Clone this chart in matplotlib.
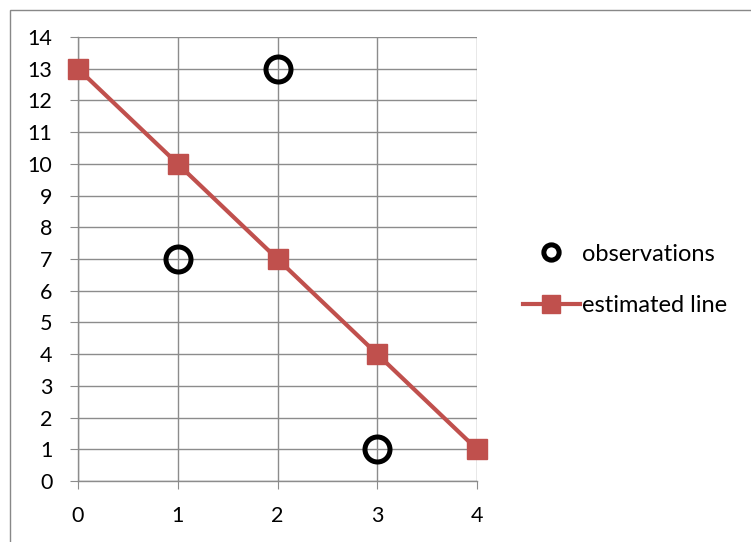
import matplotlib
matplotlib.use("Agg")
import matplotlib.pyplot as plt
from matplotlib.lines import Line2D
from matplotlib.patches import Rectangle

obs_x = [1, 2, 3]
obs_y = [7, 13, 1]
est_x = [0, 1, 2, 3, 4]
est_y = [13, 10, 7, 4, 1]
xticks = [0, 1, 2, 3, 4]
yticks = list(range(0, 15))

plt.rcParams['font.family'] = ['Lato', 'DejaVu Sans']
fig = plt.figure(figsize=(7.51, 5.42), dpi=100)
fig.patches.append(Rectangle((9.5/751, -0.01), 1.2, 1 - 9.5/542 + 0.01, transform=fig.transFigure,
                             fill=False, edgecolor='#888888', linewidth=1.0))
ax = fig.add_axes([78/751, (542-481)/542, (477-78)/751, (481-37)/542])
ax.set_xlim(0, 4)
ax.set_ylim(0, 14)
ax.set_xticks(xticks)
ax.set_yticks(yticks)
ax.grid(True, color='#8c8c8c', linewidth=1.0)
ax.set_axisbelow(True)
for s in ['top', 'right']:
    ax.spines[s].set_visible(False)
for s in ['left', 'bottom']:
    ax.spines[s].set_color('#8c8c8c')
    ax.spines[s].set_linewidth(1.0)
ax.tick_params(axis='y', length=5.5, color='#8c8c8c', labelsize=15.5, pad=13)
ax.tick_params(axis='x', length=6, color='#8c8c8c', labelsize=15.5, pad=12)

red = '#C0504D'
ax.plot(est_x, est_y, color=red, linewidth=3.0, marker='s', markersize=14.5,
        markerfacecolor=red, markeredgecolor=red, clip_on=False, zorder=3, label='estimated line')
ax.plot(obs_x, obs_y, linestyle='none', marker='o', markersize=18, markerfacecolor='none',
        markeredgecolor='black', markeredgewidth=3.6, clip_on=False, zorder=4, label='observations')

handles = [Line2D([], [], linestyle='none', marker='o', markersize=11, markerfacecolor='none',
                  markeredgecolor='black', markeredgewidth=3.6),
           Line2D([], [], color=red, linewidth=3.0, marker='s', markersize=12.5,
                  markerfacecolor=red, markeredgecolor=red)]
fig.legend(handles, ['observations', 'estimated line'], loc='center left',
           bbox_to_anchor=(523/751, 1 - 280/542), frameon=False, fontsize=17,
           handlelength=2.4, handletextpad=0.08, labelspacing=1.3, borderpad=0,
           borderaxespad=0)
fig.savefig('out.png', dpi=100)
